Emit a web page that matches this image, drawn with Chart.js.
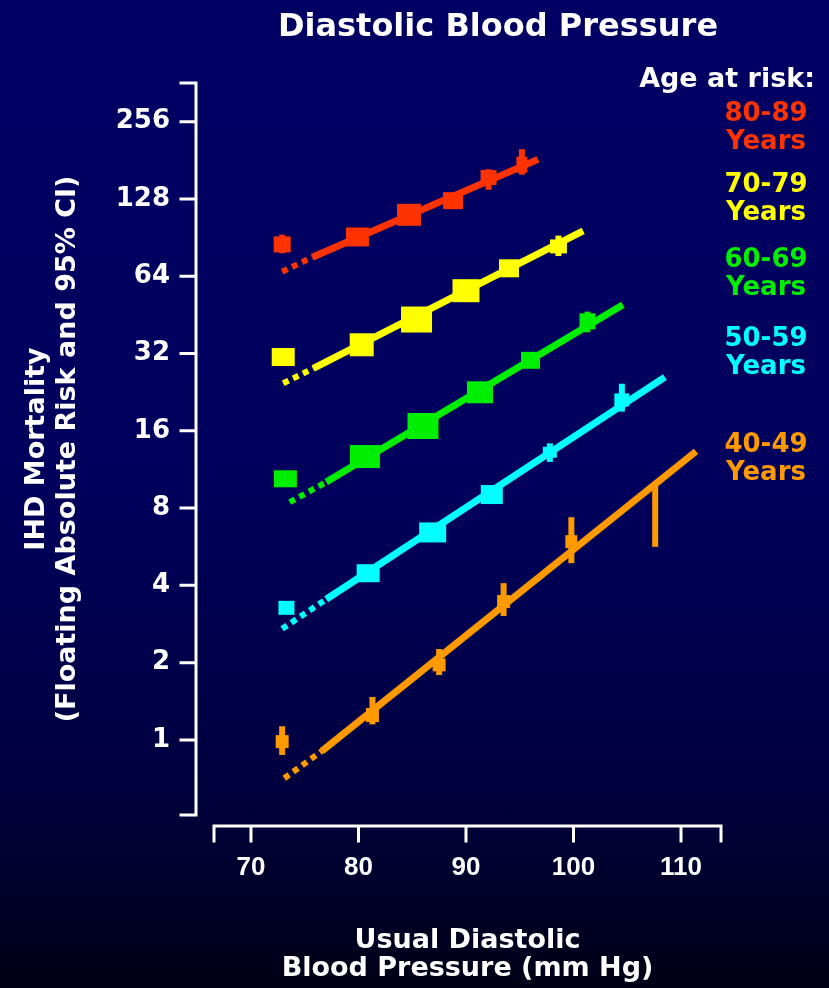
<!DOCTYPE html>
<html>
<head>
<meta charset="utf-8">
<script src="https://cdn.jsdelivr.net/npm/chart.js@4.4.1/dist/chart.umd.min.js"></script>
<style>
    body { margin: 0; background: #000018; }
    #wrap {
        position: relative;
        width: 829px;
        height: 988px;
        background: linear-gradient(#000064 0%, #00005c 50%, #00003e 80%, #000016 100%);
        font-family: 'DejaVu Sans', sans-serif;
        font-weight: bold;
        color: #fff;
    }
    #chart { position: absolute; left: 0; top: 0; }
    .title {
        position: absolute; left: 198px; top: 7px; width: 600px;
        text-align: center; font-size: 32px; line-height: 36px;
    }
    .legend-head {
        position: absolute; right: 14px; top: 64px;
        font-size: 27px; line-height: 28px;
    }
    .band {
        position: absolute; left: 666px; width: 200px;
        text-align: center; font-size: 26px; line-height: 28px;
    }
</style>
</head>
<body>
<div id="wrap">
    <canvas id="chart" width="829" height="988"></canvas>
    <div class="title">Diastolic Blood Pressure</div>
    <div class="legend-head">Age at risk:</div>
    <div class="band" style="top:98px;color:#ff3300">80-89<br>Years</div>
    <div class="band" style="top:169px;color:#ffff00">70-79<br>Years</div>
    <div class="band" style="top:244px;color:#00ee00">60-69<br>Years</div>
    <div class="band" style="top:323px;color:#00ffff">50-59<br>Years</div>
    <div class="band" style="top:429px;color:#ff9900">40-49<br>Years</div>
</div>
<script>
// axis ticks
const xTicks = [70, 80, 90, 100, 110];
const yTicks = [1, 2, 4, 8, 16, 32, 64, 128, 256];

// 80-89 years: usual DBP, floating absolute risk, 95% CI
const dbp8089  = [72.9, 79.9, 84.7, 88.8, 92.1, 95.2];
const risk8089 = [85.1, 91.0, 111, 126, 155, 174];
const lo8089   = [78.6, null, null, null, 139, 159];
const hi8089   = [92.9, null, null, null, 167, 200];
const fitDbp8089  = [72.9, 75.7, 96.7];
const fitRisk8089 = [66.6, 75.9, 182.5];

// 70-79 years
const dbp7079  = [73.0, 80.3, 85.4, 90.0, 94.0, 98.6];
const risk7079 = [31.0, 34.6, 43.4, 56.2, 68.7, 83.6];
const lo7079   = [null, null, null, null, null, 76.7];
const hi7079   = [null, null, null, null, null, 92.1];
const fitDbp7079  = [73.0, 75.8, 100.9];
const fitRisk7079 = [24.5, 28.0, 96.1];

// 60-69 years
const dbp6069  = [73.2, 80.6, 86.0, 91.3, 96.0, 101.3];
const risk6069 = [10.4, 12.7, 16.7, 22.6, 30.1, 42.7];
const lo6069   = [null, null, null, null, null, 38.7];
const hi6069   = [null, null, null, null, null, 46.6];
const fitDbp6069  = [73.6, 77.0, 104.6];
const fitRisk6069 = [8.43, 10.1, 49.5];

// 50-59 years
const dbp5059  = [73.3, 80.9, 86.9, 92.4, 97.8, 104.5];
const risk5059 = [3.27, 4.46, 6.43, 9.03, 13.2, 21.1];
const lo5059   = [null, null, null, null, 12.1, 19.0];
const hi5059   = [null, null, null, null, 14.3, 24.4];
const fitDbp5059  = [72.9, 77.0, 108.5];
const fitRisk5059 = [2.71, 3.53, 25.9];

// 40-49 years (last CI has no point estimate drawn)
const dbp4049  = [72.9, 81.3, 87.5, 93.5, 99.8, 107.6];
const risk4049 = [0.985, 1.25, 1.96, 3.46, 5.92, null];
const lo4049   = [0.874, 1.15, 1.79, 3.04, 4.88, 5.65];
const hi4049   = [1.13, 1.47, 2.26, 4.08, 7.37, 9.84];
const fitDbp4049  = [73.1, 76.6, 111.4];
const fitRisk4049 = [0.709, 0.906, 13.3];

// marker boxes [width, height] in px
const box8089 = [[17, 16], [23, 19], [24, 22], [20, 17], [16, 15], [11, 16]];
const box7079 = [[23, 18], [24, 23], [31, 26], [27, 23], [20, 18], [17, 14]];
const box6069 = [[23, 17], [30, 23], [31, 26], [26, 22], [19, 17], [16, 16]];
const box5059 = [[16, 14], [23, 18], [27, 20], [22, 19], [14, 11], [15, 13]];
const box4049 = [[13, 13], [13, 14], [13, 13], [13, 13], [12, 13], [0, 0]];

const bands = [
    { color: '#ff3300', dbp: dbp8089, risk: risk8089, lo: lo8089, hi: hi8089, fx: fitDbp8089, fy: fitRisk8089, box: box8089 },
    { color: '#ffff00', dbp: dbp7079, risk: risk7079, lo: lo7079, hi: hi7079, fx: fitDbp7079, fy: fitRisk7079, box: box7079 },
    { color: '#00ee00', dbp: dbp6069, risk: risk6069, lo: lo6069, hi: hi6069, fx: fitDbp6069, fy: fitRisk6069, box: box6069 },
    { color: '#00ffff', dbp: dbp5059, risk: risk5059, lo: lo5059, hi: hi5059, fx: fitDbp5059, fy: fitRisk5059, box: box5059 },
    { color: '#ff9900', dbp: dbp4049, risk: risk4049, lo: lo4049, hi: hi4049, fx: fitDbp4049, fy: fitRisk4049, box: box4049 }
];

// regression lines: dotted extrapolation then solid fit
const datasets = [];
bands.forEach(b => {
    datasets.push({
        data: [{ x: b.fx[0], y: b.fy[0] }, { x: b.fx[1], y: b.fy[1] }],
        showLine: true,
        borderColor: b.color,
        borderWidth: 6,
        borderDash: [6, 5],
        borderCapStyle: 'butt',
        pointRadius: 0
    });
    datasets.push({
        data: [{ x: b.fx[1], y: b.fy[1] }, { x: b.fx[2], y: b.fy[2] }],
        showLine: true,
        borderColor: b.color,
        borderWidth: 7,
        borderCapStyle: 'butt',
        pointRadius: 0
    });
});

// square markers + CI bars
const markers = {
    id: 'markers',
    afterDatasetsDraw(chart) {
        const { ctx, scales: { x, y } } = chart;
        ctx.save();
        bands.forEach(b => {
            ctx.fillStyle = b.color;
            b.dbp.forEach((d, i) => {
                const px = x.getPixelForValue(d);
                if (b.lo[i] != null) {
                    const top = y.getPixelForValue(b.hi[i]);
                    const bot = y.getPixelForValue(b.lo[i]);
                    ctx.fillRect(px - 3, top, 6, bot - top);
                }
                if (b.risk[i] != null) {
                    const py = y.getPixelForValue(b.risk[i]);
                    const [w, h] = b.box[i];
                    ctx.fillRect(px - w / 2, py - h / 2, w, h);
                }
            });
        });
        ctx.restore();
    }
};

// detached axis frame with outward ticks
const frame = {
    id: 'frame',
    afterDraw(chart) {
        const { ctx, chartArea, scales: { x, y } } = chart;
        ctx.save();
        ctx.strokeStyle = '#ffffff';
        ctx.lineWidth = 3;
        ctx.lineCap = 'square';

        const ax = chartArea.left - 18;
        ctx.beginPath();
        ctx.moveTo(ax, y.top);
        ctx.lineTo(ax, y.bottom);
        [y.top, y.bottom, ...yTicks.map(v => y.getPixelForValue(v))].forEach(py => {
            ctx.moveTo(ax - 15, py);
            ctx.lineTo(ax, py);
        });
        ctx.stroke();

        const ay = chartArea.bottom + 11;
        ctx.beginPath();
        ctx.moveTo(x.left, ay);
        ctx.lineTo(x.right, ay);
        [x.left, x.right, ...xTicks.map(v => x.getPixelForValue(v))].forEach(px => {
            ctx.moveTo(px, ay);
            ctx.lineTo(px, ay + 15);
        });
        ctx.stroke();
        ctx.restore();
    }
};

const labelFont = { family: "'DejaVu Sans', sans-serif", weight: 'bold' };

new Chart(document.getElementById('chart'), {
    type: 'scatter',
    data: { datasets },
    options: {
        responsive: false,
        animation: false,
        layout: { padding: { top: 83, right: 108, left: 0, bottom: 0 } },
        plugins: {
            legend: { display: false },
            tooltip: { enabled: false }
        },
        scales: {
            x: {
                type: 'linear',
                min: 66.56,
                max: 113.72,
                afterBuildTicks: s => { s.ticks = xTicks.map(v => ({ value: v })); },
                afterFit: s => { s.height = 173; },
                grid: { display: false, drawTicks: false },
                border: { display: false },
                ticks: { color: '#ffffff', autoSkip: false, maxRotation: 0, padding: 37, font: { family: "'Liberation Sans', Arial, sans-serif", weight: 'bold', size: 26 } },
                title: {
                    display: true,
                    text: ['Usual Diastolic', 'Blood Pressure (mm Hg)'],
                    color: '#ffffff',
                    font: { ...labelFont, size: 27, lineHeight: 28 / 27 },
                    padding: { top: 0, bottom: 5 }
                }
            },
            y: {
                type: 'logarithmic',
                min: 0.51,
                max: 362,
                afterBuildTicks: s => { s.ticks = yTicks.map(v => ({ value: v })); },
                afterFit: s => { s.width = 214; },
                grid: { display: false, drawTicks: false },
                border: { display: false },
                ticks: { color: '#ffffff', autoSkip: false, padding: 44, callback: v => String(v), font: { ...labelFont, size: 26 } },
                title: {
                    display: true,
                    text: ['IHD Mortality', '(Floating Absolute Risk and 95% CI)'],
                    color: '#ffffff',
                    font: { ...labelFont, size: 27, lineHeight: 31 / 27 },
                    padding: { top: 21, bottom: 0 }
                }
            }
        }
    },
    plugins: [markers, frame]
});
</script>
</body>
</html>
